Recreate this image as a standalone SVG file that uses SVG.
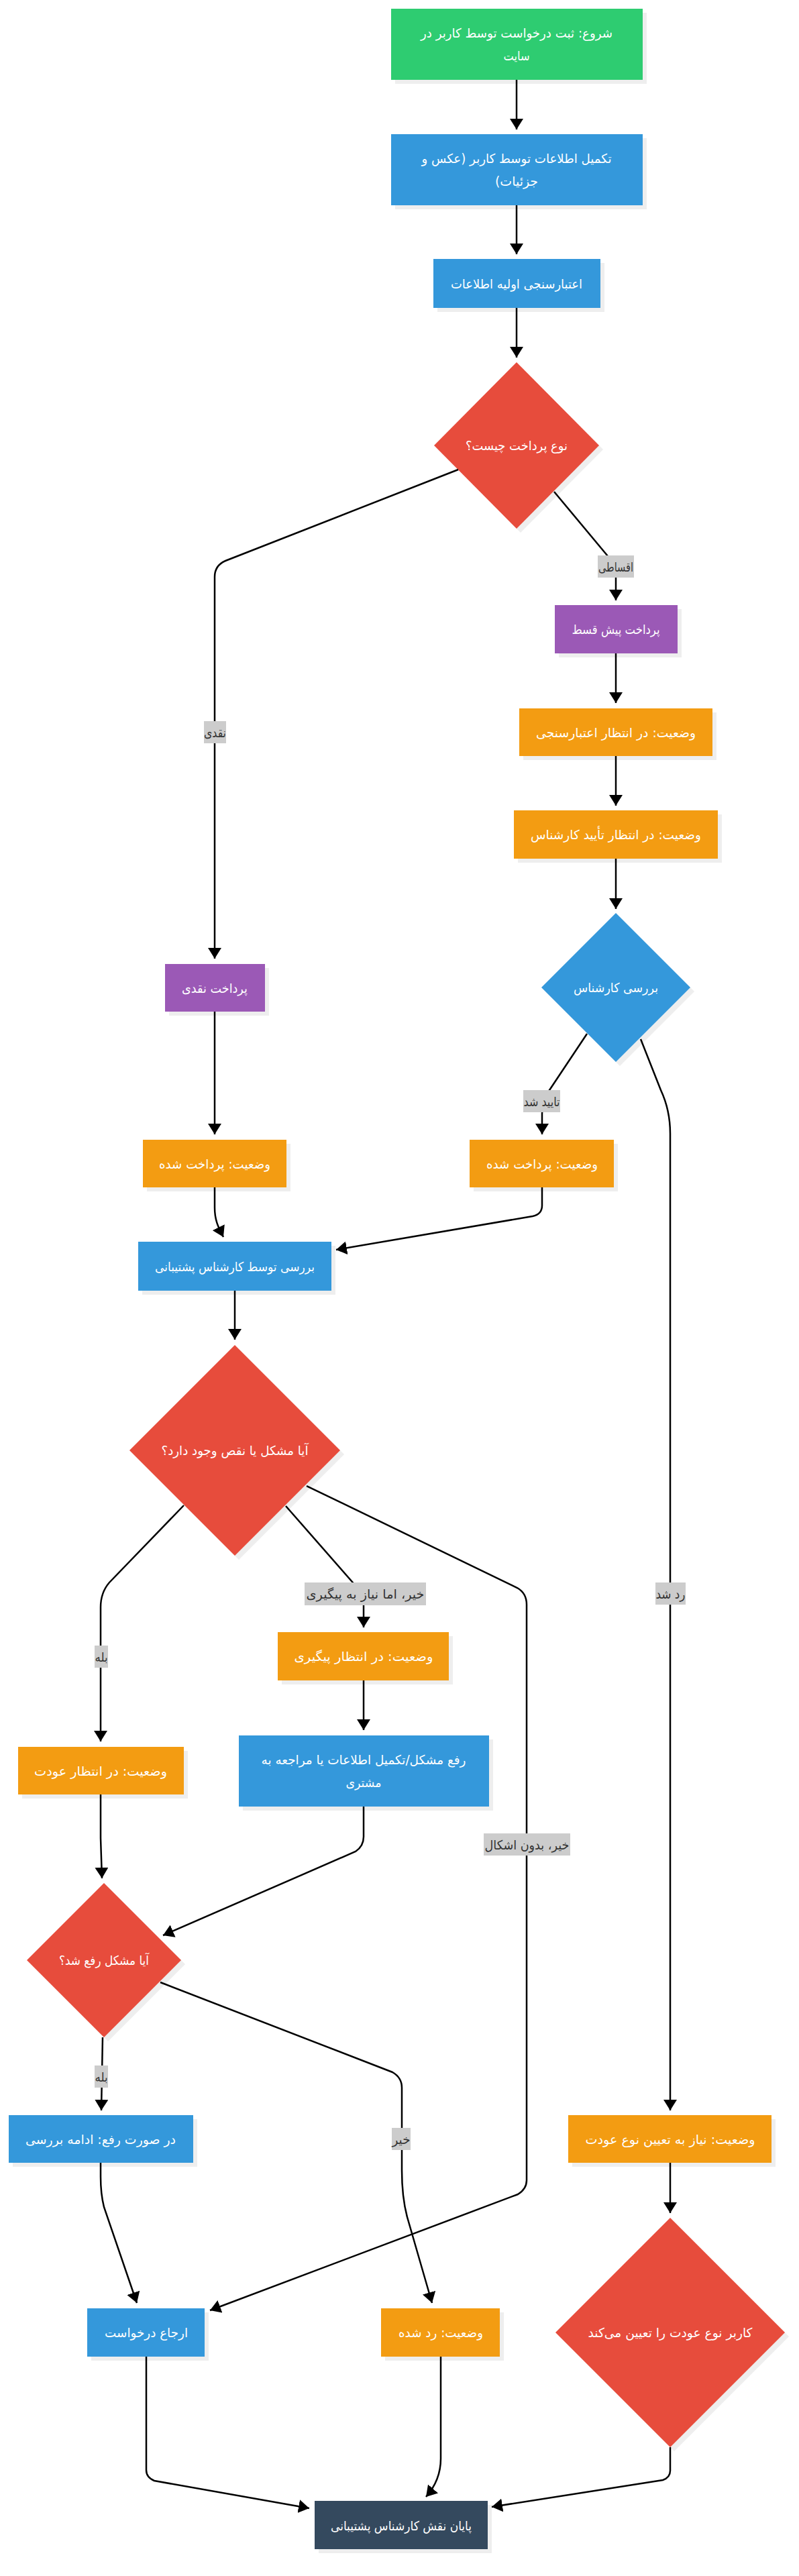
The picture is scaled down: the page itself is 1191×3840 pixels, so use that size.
<svg xmlns="http://www.w3.org/2000/svg" width="1191" height="3840" viewBox="0 0 1191 3840">
<defs>
<style>
.sh{fill:#eeeeee}
text{font-family:"DejaVu Sans",sans-serif;font-size:19px;direction:rtl;text-anchor:middle;dominant-baseline:central}
.node text{fill:#ffffff}
.green{fill:#2ecc71}
.blue{fill:#3498db}
.red{fill:#e74c3c}
.purple{fill:#9b59b6}
.orange{fill:#f39c12}
.dark{fill:#34495e}
.edges path{fill:none;stroke:#000;stroke-width:2.5;marker-end:url(#arrow)}
.lbl rect{fill:#cccccc}
.lbl text{fill:#333333}
</style>
<marker id="arrow" markerUnits="userSpaceOnUse" markerWidth="16" markerHeight="20" refX="16" refY="10" orient="auto"><path d="M0,0 L16,10 L0,20 z" fill="#000"/></marker>
</defs>
<rect width="1191" height="3840" fill="#ffffff"/>

<g id="n1" class="node"><rect class="sh" x="589" y="19" width="375" height="106"/><rect class="green" x="583" y="13" width="375" height="106"/><text x="770" y="49" textLength="286" lengthAdjust="spacingAndGlyphs">شروع: ثبت درخواست توسط کاربر در</text><text x="770" y="83" textLength="39" lengthAdjust="spacingAndGlyphs">سایت</text></g>
<g id="n2" class="node"><rect class="sh" x="589" y="206" width="375" height="106"/><rect class="blue" x="583" y="200" width="375" height="106"/><text x="770" y="236" textLength="283" lengthAdjust="spacingAndGlyphs">تکمیل اطلاعات توسط کاربر  (عکس و</text><text x="770" y="270" textLength="64" lengthAdjust="spacingAndGlyphs">جزئیات)</text></g>
<g id="n3" class="node"><rect class="sh" x="652" y="392" width="249" height="73"/><rect class="blue" x="646" y="386" width="249" height="73"/><text x="770" y="423" textLength="196" lengthAdjust="spacingAndGlyphs">اعتبارسنجی اولیه اطلاعات</text></g>
<g id="d1" class="node"><polygon class="sh" points="776,546 899,670 776,794 653,670"/><polygon class="red" points="770,540 893,664 770,788 647,664"/><text x="770" y="664" textLength="152" lengthAdjust="spacingAndGlyphs">نوع پرداخت چیست؟</text></g>
<g id="n4" class="node"><rect class="sh" x="833" y="908" width="183" height="72"/><rect class="purple" x="827" y="902" width="183" height="72"/><text x="918" y="938" textLength="131" lengthAdjust="spacingAndGlyphs">پرداخت پیش قسط</text></g>
<g id="n5" class="node"><rect class="sh" x="780" y="1062" width="288" height="71"/><rect class="orange" x="774" y="1056" width="288" height="71"/><text x="918" y="1092" textLength="238" lengthAdjust="spacingAndGlyphs">وضعیت: در انتظار اعتبارسنجی</text></g>
<g id="n6" class="node"><rect class="sh" x="772" y="1214" width="304" height="72"/><rect class="orange" x="766" y="1208" width="304" height="72"/><text x="918" y="1244" textLength="254" lengthAdjust="spacingAndGlyphs">وضعیت: در انتظار تأیید کارشناس</text></g>
<g id="d2" class="node"><polygon class="sh" points="924,1367 1035,1478 924,1589 813,1478"/><polygon class="blue" points="918,1361 1029,1472 918,1583 807,1472"/><text x="918" y="1472" textLength="126" lengthAdjust="spacingAndGlyphs">بررسی کارشناس</text></g>
<g id="n7" class="node"><rect class="sh" x="252" y="1443" width="149" height="71"/><rect class="purple" x="246" y="1437" width="149" height="71"/><text x="320" y="1473" textLength="98" lengthAdjust="spacingAndGlyphs">پرداخت نقدی</text></g>
<g id="n8" class="node"><rect class="sh" x="219" y="1705" width="214" height="71"/><rect class="orange" x="213" y="1699" width="214" height="71"/><text x="320" y="1735" textLength="166" lengthAdjust="spacingAndGlyphs">وضعیت: پرداخت شده</text></g>
<g id="n9" class="node"><rect class="sh" x="706" y="1705" width="215" height="71"/><rect class="orange" x="700" y="1699" width="215" height="71"/><text x="808" y="1735" textLength="166" lengthAdjust="spacingAndGlyphs">وضعیت: پرداخت شده</text></g>
<g id="n10" class="node"><rect class="sh" x="212" y="1857" width="288" height="73"/><rect class="blue" x="206" y="1851" width="288" height="73"/><text x="350" y="1888" textLength="238" lengthAdjust="spacingAndGlyphs">بررسی توسط کارشناس پشتیبانی</text></g>
<g id="d3" class="node"><polygon class="sh" points="356,2011 513,2168 356,2325 199,2168"/><polygon class="red" points="350,2005 507,2162 350,2319 193,2162"/><text x="350" y="2162" textLength="219" lengthAdjust="spacingAndGlyphs">آیا مشکل یا نقص وجود دارد؟</text></g>
<g id="n11" class="node"><rect class="sh" x="420" y="2439" width="255" height="72"/><rect class="orange" x="414" y="2433" width="255" height="72"/><text x="542" y="2469" textLength="207" lengthAdjust="spacingAndGlyphs">وضعیت: در انتظار پیگیری</text></g>
<g id="n12" class="node"><rect class="sh" x="33" y="2610" width="247" height="71"/><rect class="orange" x="27" y="2604" width="247" height="71"/><text x="150" y="2640" textLength="198" lengthAdjust="spacingAndGlyphs">وضعیت: در انتظار عودت</text></g>
<g id="n13" class="node"><rect class="sh" x="362" y="2593" width="373" height="106"/><rect class="blue" x="356" y="2587" width="373" height="106"/><text x="542" y="2623" textLength="305" lengthAdjust="spacingAndGlyphs">رفع مشکل/تکمیل اطلاعات یا مراجعه به</text><text x="542" y="2657" textLength="53" lengthAdjust="spacingAndGlyphs">مشتری</text></g>
<g id="d4" class="node"><polygon class="sh" points="161,2813 276,2928 161,3043 46,2928"/><polygon class="red" points="155,2807 270,2922 155,3037 40,2922"/><text x="155" y="2922" textLength="134" lengthAdjust="spacingAndGlyphs">آیا مشکل رفع شد؟</text></g>
<g id="n14" class="node"><rect class="sh" x="19" y="3159" width="275" height="71"/><rect class="blue" x="13" y="3153" width="275" height="71"/><text x="150" y="3189" textLength="224" lengthAdjust="spacingAndGlyphs">در صورت رفع: ادامه بررسی</text></g>
<g id="n15" class="node"><rect class="sh" x="853" y="3159" width="303" height="71"/><rect class="orange" x="847" y="3153" width="303" height="71"/><text x="999" y="3189" textLength="253" lengthAdjust="spacingAndGlyphs">وضعیت: نیاز به تعیین نوع عودت</text></g>
<g id="d5" class="node"><polygon class="sh" points="1005,3312 1176,3483 1005,3654 834,3483"/><polygon class="red" points="999,3306 1170,3477 999,3648 828,3477"/><text x="999" y="3477" textLength="245" lengthAdjust="spacingAndGlyphs">کاربر نوع عودت را تعیین می‌کند</text></g>
<g id="n16" class="node"><rect class="sh" x="136" y="3447" width="175" height="72"/><rect class="blue" x="130" y="3441" width="175" height="72"/><text x="218" y="3477" textLength="124" lengthAdjust="spacingAndGlyphs">ارجاع درخواست</text></g>
<g id="n17" class="node"><rect class="sh" x="574" y="3447" width="177" height="72"/><rect class="orange" x="568" y="3441" width="177" height="72"/><text x="657" y="3477" textLength="126" lengthAdjust="spacingAndGlyphs">وضعیت: رد شده</text></g>
<g id="n18" class="node"><rect class="sh" x="475" y="3734" width="258" height="72"/><rect class="dark" x="469" y="3728" width="258" height="72"/><text x="598" y="3765" textLength="210" lengthAdjust="spacingAndGlyphs">پایان نقش کارشناس پشتیبانی</text></g>

<g id="edges" class="edges">
<path d="M770,119 L770,193"/>
<path d="M770,306 L770,379"/>
<path d="M770,459 L770,533"/>
<path d="M683,700 L336,836 Q320,843 320,860 L320,1429"/>
<path d="M826,733 L906,829 Q918,843 918,860 L918,895"/>
<path d="M918,974 L918,1048"/>
<path d="M918,1127 L918,1201"/>
<path d="M918,1280 L918,1355"/>
<path d="M875,1541 L817,1628 Q808,1642 808,1660 L808,1691"/>
<path d="M955,1549 L985,1625 Q999,1655 999,1690 L999,3146"/>
<path d="M320,1508 L320,1691"/>
<path d="M320,1770 L320,1800 C320,1820 326,1830 333,1844"/>
<path d="M808,1770 L808,1797 Q808,1810 794,1813 L501,1863"/>
<path d="M350,1924 L350,1997"/>
<path d="M274,2244 L163,2359 Q150,2374 150,2396 L150,2596"/>
<path d="M426,2245 L532,2366 Q542,2378 542,2393 L542,2426"/>
<path d="M457,2215 L771,2367 Q785,2375 785,2392 L785,3250 Q785,3263 772,3271 L313,3444"/>
<path d="M542,2505 L542,2579"/>
<path d="M542,2693 L542,2738 Q542,2752 530,2760 L243,2885"/>
<path d="M150,2675 L150,2740 L152,2800"/>
<path d="M153,3037 L151,3146"/>
<path d="M239,2955 L585,3089 Q599,3097 599,3112 L599,3235 Q599,3275 607,3305 L644,3433"/>
<path d="M150,3224 L150,3245 Q150,3270 155,3290 L204,3433"/>
<path d="M999,3224 L999,3299"/>
<path d="M218,3513 L218,3682 Q218,3693 230,3698 L461,3739"/>
<path d="M657,3513 L657,3665 Q657,3697 635,3722"/>
<path d="M999,3648 L999,3683 Q999,3693 988,3697 L733,3737"/>
</g>

<g id="labels">
<g class="lbl"><rect x="304" y="1075" width="33" height="33"/><text x="320.5" y="1091.5" textLength="33" lengthAdjust="spacingAndGlyphs">نقدی</text></g>
<g class="lbl"><rect x="891" y="828" width="54" height="33"/><text x="918" y="844.5" textLength="52" lengthAdjust="spacingAndGlyphs">اقساطی</text></g>
<g class="lbl"><rect x="780" y="1625" width="55" height="33"/><text x="807.5" y="1641.5" textLength="54" lengthAdjust="spacingAndGlyphs">تایید شد</text></g>
<g class="lbl"><rect x="977" y="2359" width="45" height="33"/><text x="999.5" y="2375.5" textLength="44" lengthAdjust="spacingAndGlyphs">رد شد</text></g>
<g class="lbl"><rect x="454" y="2359" width="181" height="34"/><text x="544.5" y="2376" textLength="176" lengthAdjust="spacingAndGlyphs">خیر، اما نیاز به پیگیری</text></g>
<g class="lbl"><rect x="141" y="2453" width="20" height="33"/><text x="151" y="2469.5" textLength="19" lengthAdjust="spacingAndGlyphs">بله</text></g>
<g class="lbl"><rect x="721" y="2733" width="129" height="33"/><text x="785.5" y="2749.5" textLength="126" lengthAdjust="spacingAndGlyphs">خیر، بدون اشکال</text></g>
<g class="lbl"><rect x="141" y="3079" width="20" height="33"/><text x="151" y="3095.5" textLength="19" lengthAdjust="spacingAndGlyphs">بله</text></g>
<g class="lbl"><rect x="584" y="3172" width="28" height="33"/><text x="598" y="3188.5" textLength="27" lengthAdjust="spacingAndGlyphs">خیر</text></g>
</g>
</svg>
